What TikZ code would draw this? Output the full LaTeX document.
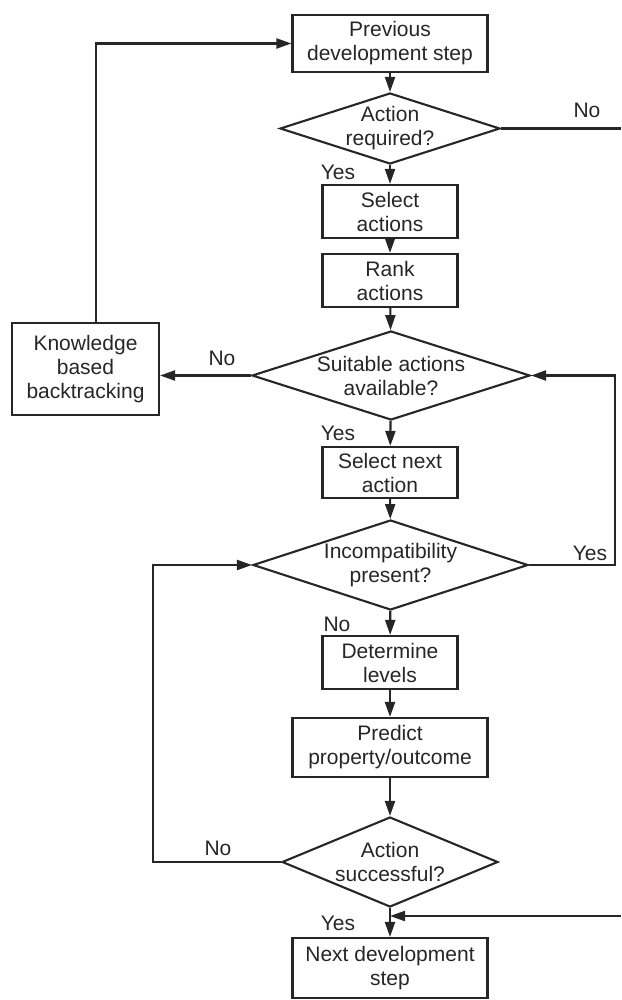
\documentclass[tikz,border=0pt]{standalone}
\usepackage{fontspec}
\setmainfont{Liberation Sans}
\usetikzlibrary{shapes.geometric,arrows.meta}
\definecolor{ink}{HTML}{262626}
\tikzset{
  base/.style={draw=ink, line width=2.1pt, inner sep=0pt, align=center, text=ink,
    font=\fontsize{21}{24}\selectfont},
  box/.style={base, rectangle},
  dia/.style={base, diamond},
  txt/.style={inner sep=0pt, align=center, text=ink, font=\fontsize{21}{24}\selectfont},
  lbl/.style={inner sep=0pt, text=ink, font=\fontsize{21}{24}\selectfont},
  conn/.style={draw=ink, line width=2.1pt},
  arr/.style={conn, -{Triangle[length=15pt,width=10pt]}}
}
\begin{document}
\begin{tikzpicture}[x=1pt,y=-1pt]
\useasboundingbox (0,0) rectangle (621,1000);
% boxes
\node[box, minimum width=195pt, minimum height=57pt] (b1) at (390,43.5) {Previous\\development step};
\node[box, minimum width=135pt, minimum height=53pt] (b2) at (390,211.5) {Select\\actions};
\node[box, minimum width=135pt, minimum height=53pt] (b3) at (390,280.5) {Rank\\actions};
\node[box, minimum width=147pt, minimum height=92pt] (kb) at (85.5,369) {Knowledge\\based\\backtracking};
\node[box, minimum width=135pt, minimum height=51pt] (b4) at (390,472.5) {Select next\\action};
\node[box, minimum width=135pt, minimum height=53pt] (b5) at (390,662.5) {Determine\\levels};
\node[box, minimum width=195pt, minimum height=59pt] (b6) at (390,747.5) {Predict\\property/outcome};
\node[box, minimum width=195pt, minimum height=60pt] (b7) at (390,968) {Next development\\step};
% diamonds
\node[dia, minimum width=220pt, minimum height=71pt] (d1) at (390,128.5) {};
\node[txt] (t1) at (d1) {Action\\required?};
\node[dia, minimum width=278pt, minimum height=89pt] (d2) at (391,375.5) {};
\node[txt] (t2) at (d2) {Suitable actions\\available?};
\node[dia, minimum width=275pt, minimum height=90pt] (d3) at (390.5,565) {};
\node[txt] (t3) at (d3) {Incompatibility\\present?};
\node[dia, minimum width=216pt, minimum height=90pt] (d4) at (390,862) {};
\node[txt] (t4) at (d4) {Action\\successful?};
% coordinates
\coordinate (e1) at (621,128.5);
\coordinate (k1) at (96,323);
\coordinate (k2) at (96,43.5);
\coordinate (r1) at (615,565);
\coordinate (r2) at (615,375.5);
\coordinate (l1) at (153,862);
\coordinate (l2) at (153,565);
\coordinate (f1) at (621,916);
\coordinate (f2) at (390,916);
% connectors
\draw[arr] (b1) -- (d1);
\draw[conn] (d1.east) -- (e1);
\draw[arr] (d1) -- (b2);
\draw[arr] (b2) -- (b3);
\draw[arr] (b3) -- (d2);
\draw[arr] (d2.west) -- (kb.east |- d2.west);
\draw[arr] (k1) -- (k2) -- (b1.west);
\draw[arr] (d2) -- (b4);
\draw[arr] (b4) -- (d3);
\draw[arr] (d3.east) -- (r1) -- (r2) -- (d2.east);
\draw[arr] (d3) -- (b5);
\draw[arr] (b5) -- (b6);
\draw[arr] (b6) -- (d4);
\draw[arr] (d4.west) -- (l1) -- (l2) -- (d3.west);
\draw[arr] (d4) -- (b7);
\draw[arr] (f1) -- (f2);
% labels
\node[lbl] (n1) at (587,110) {No};
\node[lbl] (y1) at (338,172) {Yes};
\node[lbl] (n2) at (222,358) {No};
\node[lbl] (y2) at (338,433) {Yes};
\node[lbl] (y3) at (590,553) {Yes};
\node[lbl] (n3) at (337,624) {No};
\node[lbl] (n4) at (218,848) {No};
\node[lbl] (y4) at (338,923) {Yes};
\end{tikzpicture}
\end{document}
